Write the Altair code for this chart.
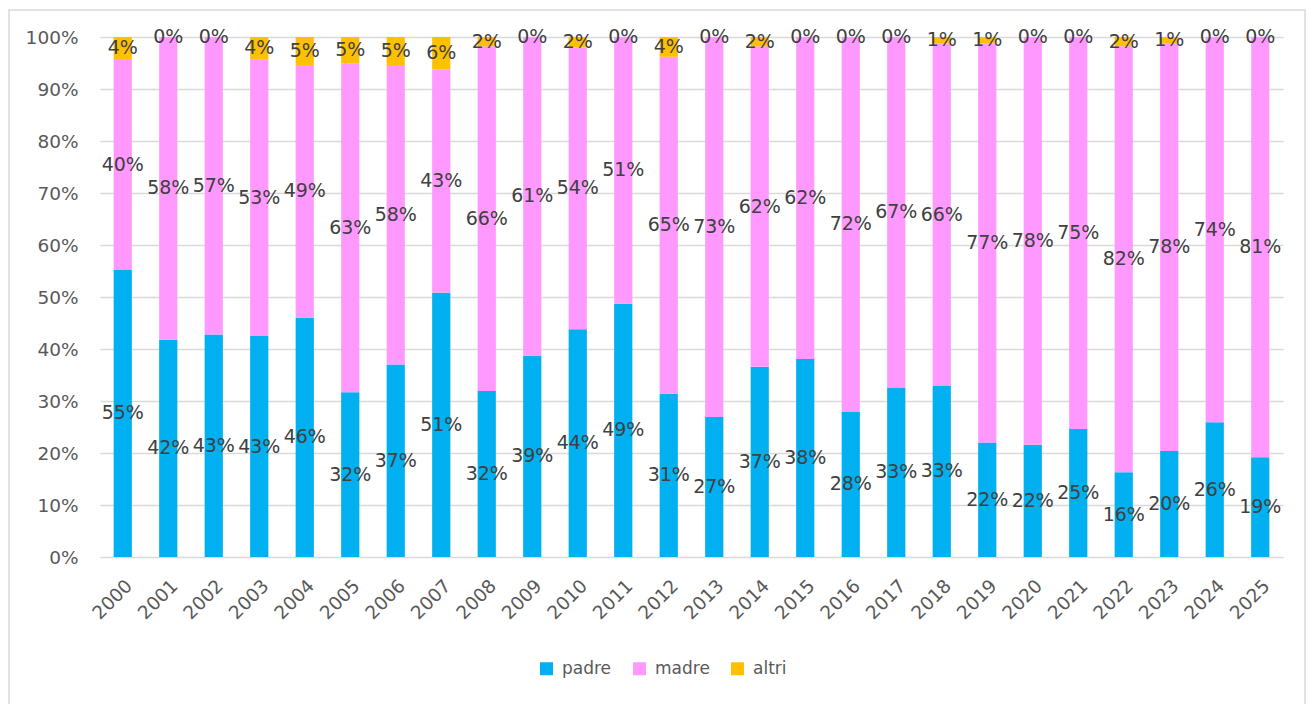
import altair as alt
import pandas as pd

years = [str(y) for y in range(2000, 2026)]
padre = [55.2, 41.8, 42.8, 42.5, 46.0, 31.7, 37.0, 50.8, 31.9, 38.7, 43.8, 48.7, 31.4,
         26.9, 36.6, 38.1, 27.9, 32.6, 32.9, 22.0, 21.6, 24.6, 16.3, 20.4, 25.9, 19.2]
madre = [40.4, 58.2, 57.2, 53.2, 48.6, 63.2, 57.6, 43.0, 66.3, 61.3, 54.2, 51.3, 64.8,
         73.1, 61.6, 61.9, 72.1, 67.4, 65.9, 76.8, 78.4, 75.4, 81.9, 78.3, 74.1, 80.8]
altri = [4.4, 0, 0, 4.3, 5.4, 5.1, 5.4, 6.2, 1.8, 0, 2.0, 0, 3.8,
         0, 1.8, 0, 0, 0, 1.2, 1.2, 0, 0, 1.8, 1.3, 0, 0]
series = ["padre", "madre", "altri"]
colors = ["#00B0F0", "#FF99FF", "#FFC000"]
y_ticks = list(range(0, 101, 10))

rows = []
for i, y in enumerate(years):
    for o, (s, vals) in enumerate(zip(series, (padre, madre, altri))):
        rows.append({"anno": y, "serie": s, "valore": vals[i], "ordine": o})
df = pd.DataFrame(rows)

FONT = "DejaVu Sans"

base = alt.Chart(df).transform_stack(
    stack="valore", groupby=["anno"], as_=["y0", "y1"],
    sort=[alt.SortField("ordine", order="ascending")]
).transform_calculate(
    mid="(datum.y0 + datum.y1) / 2",
    lab="round(datum.valore) + '%'"
)

xenc = alt.X(
    "anno:N", sort=years, title=None,
    scale=alt.Scale(paddingInner=0.6, paddingOuter=0.3),
    axis=alt.Axis(labelAngle=-45, labelFontSize=18.5, labelColor="#595959",
                  labelFont=FONT, domain=False, ticks=False, labelPadding=19, grid=False),
)

bars = base.mark_bar().encode(
    x=xenc,
    y=alt.Y("y0:Q", title=None,
            scale=alt.Scale(domain=[0, 100], nice=False),
            axis=alt.Axis(values=y_ticks, labelExpr="datum.value + '%'",
                          labelFontSize=18.5, labelFont=FONT, labelColor="#595959",
                          domain=False, ticks=False, labelPadding=22,
                          gridColor="#d9d9d9", gridWidth=1.5)),
    y2="y1:Q",
    color=alt.Color("serie:N",
                    scale=alt.Scale(domain=series, range=colors),
                    legend=alt.Legend(orient="none", legendX=438, legendY=623,
                                      direction="horizontal", title=None,
                                      symbolType="square", symbolSize=169,
                                      symbolStrokeWidth=0, labelFontSize=17,
                                      labelFont=FONT, labelColor="#595959",
                                      labelOffset=7, columnPadding=19)),
)

text = base.mark_text(font=FONT, fontSize=19, color="#404040", baseline="middle").encode(
    x=alt.X("anno:N", sort=years),
    y=alt.Y("mid:Q"),
    text="lab:N",
)

frame = alt.Chart(alt.Data(values=[{"k": 1}])).mark_rect(
    fillOpacity=0, stroke="#d9d9d9", strokeWidth=1.5
).encode(
    x=alt.value(-91), x2=alt.value(1205), y=alt.value(-27), y2=alt.value(720)
)

chart = alt.layer(frame, bars, text).properties(
    width=1183, height=520,
    autosize=alt.AutoSizeParams(type="none"),
    padding={"left": 92, "top": 29, "right": 23, "bottom": 160},
    background="white",
).configure_view(stroke=None)

chart.save("out.html", embed_options={"renderer": "svg", "actions": False})
